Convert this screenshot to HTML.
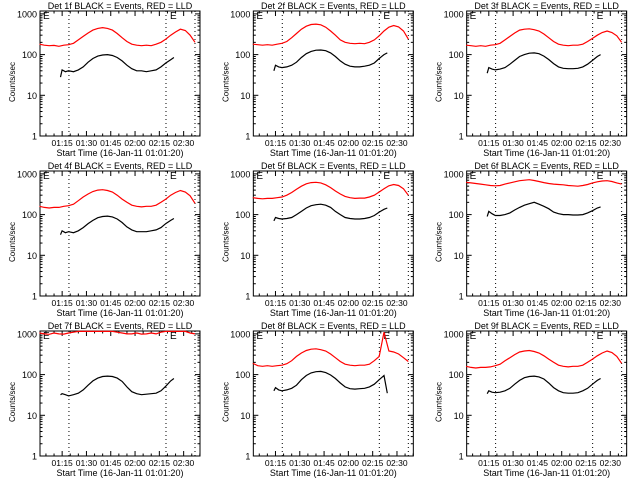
<!DOCTYPE html>
<html><head><meta charset="utf-8"><style>
html,body{margin:0;padding:0;background:#fff;}
svg{display:block;}
text{font-family:"Liberation Sans",sans-serif;fill:#000;}
</style></head><body>
<svg id="chart" width="640" height="480" viewBox="0 0 640 480"></svg>
<script>
const detNames = ["1f","2f","3f","4f","5f","6f","7f","8f","9f"];
const redTimes = [1,4,7,10,13,16,19,22,25,28,31,34,37,40,43,46,49,52,55,58,61,64,67,70,73,76,79,82,85,88,91,94,97];
const blackTimes = [14,15,17,19,22,25,28,31,34,37,40,43,46,49,52,55,58,61,64,67,70,73,76,79,82,84];
const red1 = [180,170,165,168,160,170,175,190,230,280,340,400,440,460,440,400,330,260,210,180,170,165,170,165,180,200,240,300,360,420,390,300,200];
const red2 = [180,175,170,175,170,180,190,210,260,330,420,500,550,560,540,470,380,300,230,200,190,185,190,185,200,230,290,380,470,520,480,380,240];
const red3 = [170,165,160,165,160,170,175,190,230,280,340,400,420,430,410,380,320,260,210,180,170,165,170,170,180,210,250,300,350,380,350,290,200];
const red4 = [160,150,145,150,150,160,165,180,220,270,320,370,400,410,390,360,300,240,200,170,160,155,160,160,170,200,240,300,350,390,360,290,190];
const red5 = [260,250,245,250,250,260,270,300,350,420,500,570,610,620,600,540,460,380,320,280,260,250,255,255,270,300,360,430,510,550,520,430,300];
const red6 = [620,600,580,560,540,520,510,520,560,600,640,680,700,720,690,650,610,580,560,550,540,520,510,500,520,550,600,640,670,680,650,600,560];
const red7 = [1050,1000,980,1050,1000,990,1050,1100,1150,1150,1150,1150,1150,1150,1150,1150,1100,1050,1000,1000,1050,990,1000,1050,1000,1100,1150,1150,1150,1150,1150,1050,1000];
const red8 = [190,165,160,165,160,165,170,185,220,280,340,390,420,430,410,380,320,260,210,180,170,165,170,170,180,220,280,1100,380,360,320,260,210];
const red9 = [160,150,145,150,150,155,165,180,220,260,310,360,380,390,370,340,290,240,200,170,160,155,160,160,170,200,240,290,340,380,350,280,190];
const black1 = [28,42,38,40,38,42,50,65,80,92,98,100,95,85,70,55,45,40,40,38,40,42,50,62,75,85];
const black2 = [40,55,50,48,50,55,65,85,105,120,128,130,125,110,90,70,58,52,50,50,52,55,62,80,100,110];
const black3 = [35,48,44,42,44,48,58,72,90,100,108,110,105,92,76,60,50,46,45,45,46,50,58,72,90,100];
const black4 = [32,40,36,38,36,40,48,60,72,84,90,92,88,78,64,50,42,38,38,38,40,42,48,60,72,80];
const black5 = [70,85,80,78,80,85,100,120,145,165,175,180,170,150,120,100,85,80,78,78,80,85,95,115,135,145];
const black6 = [90,120,105,95,95,100,110,130,150,170,185,200,180,160,140,115,105,100,100,98,98,100,110,125,145,155];
const black7 = [32,34,32,30,32,35,42,55,70,82,90,92,90,82,68,50,38,34,32,33,34,35,40,52,70,80];
const black8 = [40,48,42,40,42,46,55,75,95,110,118,120,112,98,80,62,50,45,44,45,46,50,58,75,95,35];
const black9 = [34,40,37,36,37,40,46,58,72,84,90,92,88,78,62,48,40,36,35,35,36,40,46,58,72,80];
const redSeries = [red1,red2,red3,red4,red5,red6,red7,red8,red9];
const blackSeries = [black1,black2,black3,black4,black5,black6,black7,black8,black9];
const xTickLabels = ["01:15","01:30","01:45","02:00","02:15","02:30"];
const xTickTimes = [15,30,45,60,75,90];
const yTickValues = [1,10,100,1000];
const yTickLabels = ["1","10","100","1000"];
const markerTimes = [19.2,79.1,97];

const svg = document.getElementById('chart');
const NS = 'http://www.w3.org/2000/svg';
function mk(tag, attrs, parent){const e=document.createElementNS(NS,tag);for(const k in attrs)e.setAttribute(k,attrs[k]);(parent||svg).appendChild(e);return e;}

for (let p=0;p<9;p++){
  const c=p%3, r=Math.floor(p/3);
  const ox=c*213.33, oy=r*160;
  const L=ox+40, R=ox+200, T=oy+11, B=oy+136;
  const xs = t => L + (t-1.33)*1.62;
  const ys = v => B - Math.log10(v)*40.7;
  const g = mk('g',{});
  
  
  const t = mk('text',{x:ox+120,y:oy+9,'font-size':'9','text-anchor':'middle'},g);
  t.textContent='Det '+detNames[p]+' BLACK = Events, RED = LLD';
  
  
  const box = mk('rect',{x:L,y:T,width:R-L,height:B-T,fill:'none',stroke:'#000','stroke-width':'1'},g);
  
  
  for (let d=0; d<4; d++){
    for (let m=1;m<10;m++){
      const v=Math.pow(10,d)*m; const y=ys(v); if(y<T) break;
      const len = m===1?5:2.5;
      mk('line',{x1:L,x2:L+len,y1:y,y2:y,stroke:'#000','stroke-width':'1'},g);
      mk('line',{x1:R,x2:R-len,y1:y,y2:y,stroke:'#000','stroke-width':'1'},g);
    }
  }
  yTickValues.forEach((v,i)=>{
    const yl=mk('text',{x:L-3,y:ys(v)+3.5,'font-size':'9','text-anchor':'end'},g);
    yl.textContent=yTickLabels[i];
    
    
  });
  for (let tm=5; tm<=100; tm+=5){
    const x=xs(tm); if(x>R) break;
    const len = tm%15===0?5:2.5;
    mk('line',{x1:x,x2:x,y1:B,y2:B-len,stroke:'#000','stroke-width':'1'},g);
    mk('line',{x1:x,x2:x,y1:T,y2:T+len,stroke:'#000','stroke-width':'1'},g);
  }
  xTickTimes.forEach((tm,i)=>{
    const xl=mk('text',{x:xs(tm),y:B+10,'font-size':'8.5','text-anchor':'middle'},g);
    xl.textContent=xTickLabels[i];
    
    
  });
  const xt=mk('text',{x:ox+120,y:B+20,'font-size':'9','text-anchor':'middle'},g);
  xt.textContent='Start Time (16-Jan-11 01:01:20)';
  
  
  const yt=mk('text',{x:0,y:0,'font-size':'8','text-anchor':'middle',transform:`translate(${ox+15},${oy+82}) rotate(-90)`},g);
  yt.textContent='Counts/sec';
  
  
  markerTimes.forEach(tm=>{
    const ml=mk('line',{x1:xs(tm),x2:xs(tm),y1:T,y2:B,stroke:'#000','stroke-width':'1','stroke-dasharray':'1,3'},g);
    
    
  });
  [L+3, xs(markerTimes[1])+4].forEach(x=>{
    const e=mk('text',{x:x,y:T+8,'font-size':'10'},g);
    e.textContent='E';
    
    
  });
  const rp = redTimes.map((tm,i)=>xs(tm).toFixed(1)+','+Math.max(T,ys(redSeries[p][i])).toFixed(1)).join(' ');
  const rl=mk('polyline',{points:rp,fill:'none',stroke:'#ff0000','stroke-width':'1.2'},g);
  
  
  const bp = blackTimes.map((tm,i)=>xs(tm).toFixed(1)+','+ys(blackSeries[p][i]).toFixed(1)).join(' ');
  const bl=mk('polyline',{points:bp,fill:'none',stroke:'#000','stroke-width':'1.2'},g);
  
  
}
</script>
</body></html>
